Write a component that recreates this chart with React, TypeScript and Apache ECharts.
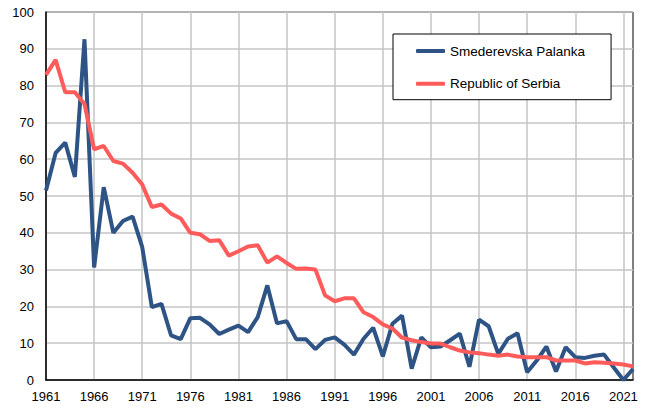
import React, { useEffect, useRef } from "react";
import * as echarts from "echarts";

const years: string[] = [];
for (let y = 1961; y <= 2022; y++) years.push(String(y));

const seriesNames = ["Smederevska Palanka", "Republic of Serbia"];

const palanka = [
  51.5, 61.7, 64.5, 55.2, 92.6, 30.6, 52.4, 40.0, 43.2, 44.4,
  36.1, 19.8, 20.7, 12.1, 11.1, 16.8, 16.9, 15.1, 12.5, 13.7,
  14.8, 13.0, 17.1, 25.7, 15.4, 16.0, 11.1, 11.1, 8.4, 10.9,
  11.6, 9.6, 6.9, 11.2, 14.2, 6.4, 15.3, 17.5, 3.1, 11.6,
  8.9, 9.1, 10.8, 12.6, 3.6, 16.4, 14.6, 7.1, 11.2, 12.7,
  2.1, 5.3, 9.1, 2.3, 8.9, 6.2, 6.0, 6.6, 6.9, 3.4,
  0.0, 3.0,
];

const serbia = [
  82.9, 87.0, 78.2, 78.2, 75.0, 62.7, 63.6, 59.5, 58.8, 56.3,
  53.1, 47.0, 47.7, 45.2, 43.9, 40.0, 39.6, 37.8, 38.0, 33.8,
  35.0, 36.3, 36.6, 31.9, 33.6, 31.8, 30.2, 30.3, 30.0, 23.0,
  21.4, 22.2, 22.2, 18.4, 17.1, 15.1, 14.0, 11.5, 10.8, 10.3,
  9.9, 9.9, 8.9, 8.0, 7.5, 7.3, 6.9, 6.6, 6.9, 6.4,
  6.2, 6.2, 6.2, 5.3, 5.3, 5.3, 4.5, 4.8, 4.7, 4.5,
  4.2, 3.7,
];

const colors = ["#2E5385", "#FF5B5B"];
const FONT = "Liberation Sans";

export default function App() {
  const ref = useRef<HTMLDivElement>(null);

  useEffect(() => {
    if (!ref.current) return;
    const chart = echarts.init(ref.current, null, { renderer: "svg" });
    chart.setOption({
      animation: false,
      backgroundColor: "#ffffff",
      grid: {
        left: 46,
        right: 12,
        top: 12,
        bottom: 30,
        show: true,
        borderColor: "#000000",
        borderWidth: 1,
        backgroundColor: "transparent",
      },
      legend: {
        orient: "vertical",
        left: 393,
        top: 34,
        data: seriesNames.map((n) => ({ name: n, icon: "roundRect" })),
        itemWidth: 29,
        itemHeight: 4,
        itemGap: 16.7,
        padding: [9, 26, 8, 23],
        backgroundColor: "#ffffff",
        borderColor: "#000000",
        borderWidth: 1,
        borderRadius: 0,
        textStyle: {
          fontFamily: FONT,
          fontSize: 13.5,
          color: "#000000",
          lineHeight: 16,
        },
      },
      xAxis: {
        type: "category",
        data: years,
        boundaryGap: false,
        axisLine: { show: true, lineStyle: { color: "#000000", width: 1.5 } },
        axisTick: { show: false },
        axisLabel: {
          interval: (i: number) => i % 5 === 0,
          margin: 10,
          color: "#000000",
          fontFamily: FONT,
          fontSize: 13,
          hideOverlap: false,
        },
        splitLine: {
          show: true,
          interval: (i: number) => i % 5 === 0,
          lineStyle: { color: "#C4C4C4", width: 1.5 },
        },
      },
      yAxis: {
        type: "value",
        min: 0,
        max: 100,
        interval: 10,
        axisLine: { show: true, lineStyle: { color: "#000000", width: 1.5 } },
        axisTick: { show: false },
        axisLabel: {
          margin: 12,
          color: "#000000",
          fontFamily: FONT,
          fontSize: 13,
        },
        splitLine: {
          show: true,
          lineStyle: { color: "#C4C4C4", width: 1.5 },
        },
      },
      series: [
        {
          name: seriesNames[0],
          type: "line",
          data: palanka,
          symbol: "none",
          color: colors[0],
          lineStyle: { width: 4, color: colors[0] },
        },
        {
          name: seriesNames[1],
          type: "line",
          data: serbia,
          symbol: "none",
          color: colors[1],
          lineStyle: { width: 4, color: colors[1] },
        },
      ],
    });
    return () => chart.dispose();
  }, []);

  return (
    <div
      ref={ref}
      style={{ position: "fixed", left: 0, top: 0, width: 645, height: 410 }}
    />
  );
}
